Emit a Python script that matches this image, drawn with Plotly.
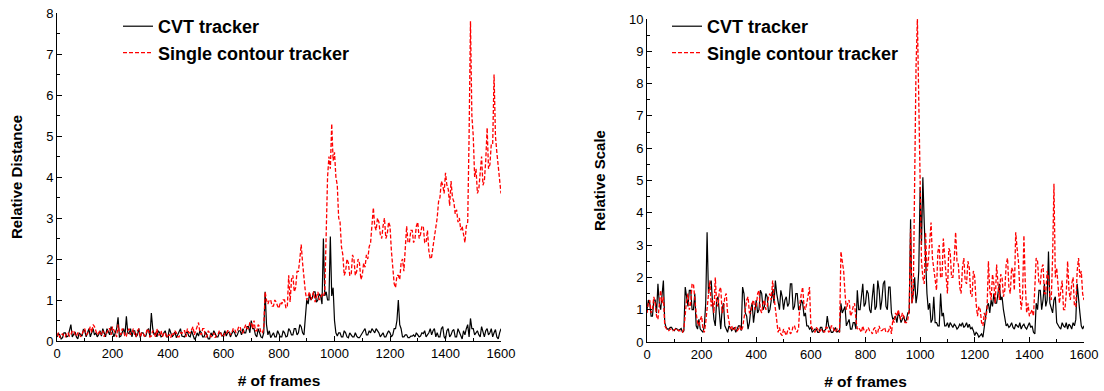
import plotly.graph_objects as go

frames = list(range(0, 1601, 5))

dist_cvt = [
    0.1, 0.18, 0.15, 0.05, 0.08, 0.2, 0.2, 0.1, 0.12, 0.25, 0.4, 0.1, 0.15, 0.22, 0.1, 0.05, 0.2, 0.15, 0.12, 0.28, 0.25, 0.1, 0.18, 0.3, 0.1, 0.2, 0.3, 0.15, 0.2, 0.1, 0.15, 0.25,
    0.12, 0.3, 0.22, 0.1, 0.3, 0.2, 0.15, 0.35, 0.25, 0.1, 0.2, 0.3, 0.58, 0.1, 0.12, 0.2, 0.3, 0.15, 0.6, 0.2, 0.18, 0.3, 0.1, 0.25, 0.25, 0.1, 0.15, 0.3, 0.08, 0.2, 0.2, 0.12,
    0.12, 0.25, 0.3, 0.1, 0.68, 0.3, 0.15, 0.2, 0.1, 0.25, 0.2, 0.1, 0.12, 0.2, 0.25, 0.1, 0.1, 0.3, 0.18, 0.1, 0.15, 0.22, 0.08, 0.15, 0.2, 0.3, 0.12, 0.1, 0.1, 0.2, 0.22, 0.12,
    0.1, 0.25, 0.15, 0.05, 0.08, 0.2, 0.12, 0.25, 0.2, 0.1, 0.1, 0.22, 0.15, 0.05, 0.05, 0.2, 0.12, 0.25, 0.18, 0.1, 0.1, 0.2, 0.2, 0.12, 0.15, 0.25, 0.12, 0.2, 0.22, 0.1, 0.18, 0.25,
    0.2, 0.1, 0.15, 0.25, 0.25, 0.15, 0.3, 0.2, 0.2, 0.35, 0.35, 0.2, 0.5, 0.3, 0.3, 0.15, 0.1, 0.3, 0.2, 0.1, 0.08, 0.2, 1.2, 0.4, 0.15, 0.25, 0.08, 0.15, 0.2, 0.1, 0.1, 0.25,
    0.15, 0.1, 0.1, 0.25, 0.2, 0.1, 0.12, 0.3, 0.25, 0.15, 0.15, 0.3, 0.3, 0.15, 0.2, 0.4, 0.35, 0.2, 0.15, 0.5, 1.0, 0.9, 1.15, 1.0, 1.05, 1.2, 1.2, 0.95, 1.0, 1.15, 1.1, 0.9,
    2.5, 1.1, 1.2, 1.0, 1.0, 2.55, 1.1, 1.3, 0.5, 0.2, 0.12, 0.2, 0.2, 0.1, 0.1, 0.25, 0.2, 0.1, 0.08, 0.2, 0.15, 0.1, 0.1, 0.2, 0.12, 0.08, 0.08, 0.15, 0.2, 0.25, 0.3, 0.15,
    0.15, 0.25, 0.2, 0.3, 0.25, 0.2, 0.3, 0.25, 0.2, 0.1, 0.15, 0.2, 0.1, 0.1, 0.18, 0.25, 0.2, 0.1, 0.15, 0.3, 0.3, 0.5, 1.0, 0.4, 0.3, 0.1, 0.1, 0.15, 0.15, 0.08, 0.08, 0.12,
    0.12, 0.15, 0.1, 0.2, 0.15, 0.1, 0.12, 0.2, 0.18, 0.25, 0.1, 0.15, 0.2, 0.3, 0.15, 0.25, 0.3, 0.1, 0.2, 0.1, 0.1, 0.3, 0.35, 0.1, 0.05, 0.25, 0.3, 0.1, 0.15, 0.25, 0.28, 0.1,
    0.1, 0.3, 0.2, 0.1, 0.05, 0.25, 0.15, 0.3, 0.4, 0.1, 0.55, 0.3, 0.3, 0.15, 0.2, 0.25, 0.15, 0.1, 0.35, 0.2, 0.1, 0.25, 0.3, 0.15, 0.2, 0.3, 0.1, 0.2, 0.28, 0.1, 0.05, 0.2,
    0.3,
]

dist_sc = [
    0.12, 0.2, 0.08, 0.15, 0.18, 0.1, 0.1, 0.2, 0.2, 0.12, 0.15, 0.25, 0.25, 0.15, 0.12, 0.2, 0.2, 0.1, 0.15, 0.25, 0.3, 0.15, 0.18, 0.25, 0.35, 0.2, 0.4, 0.35, 0.25, 0.15, 0.2, 0.25,
    0.15, 0.25, 0.1, 0.2, 0.2, 0.3, 0.3, 0.15, 0.35, 0.25, 0.2, 0.1, 0.4, 0.2, 0.15, 0.3, 0.25, 0.1, 0.12, 0.25, 0.3, 0.15, 0.2, 0.3, 0.15, 0.1, 0.25, 0.3, 0.1, 0.2, 0.2, 0.12,
    0.15, 0.3, 0.25, 0.1, 0.12, 0.25, 0.2, 0.1, 0.3, 0.15, 0.15, 0.25, 0.1, 0.2, 0.2, 0.08, 0.12, 0.15, 0.08, 0.2, 0.15, 0.25, 0.2, 0.1, 0.1, 0.2, 0.18, 0.25, 0.25, 0.1, 0.3, 0.2,
    0.2, 0.3, 0.35, 0.15, 0.25, 0.3, 0.45, 0.2, 0.15, 0.3, 0.3, 0.1, 0.1, 0.25, 0.2, 0.1, 0.12, 0.2, 0.08, 0.15, 0.15, 0.25, 0.2, 0.1, 0.1, 0.2, 0.18, 0.25, 0.25, 0.15, 0.2, 0.3,
    0.3, 0.2, 0.25, 0.35, 0.35, 0.2, 0.2, 0.3, 0.4, 0.3, 0.3, 0.45, 0.45, 0.3, 0.5, 0.25, 0.25, 0.4, 0.35, 0.2, 0.2, 0.3, 1.2, 1.0, 0.9, 1.0, 1.0, 0.85, 0.85, 1.0, 0.95, 0.85,
    0.8, 0.95, 0.9, 1.0, 1.0, 0.8, 0.85, 1.6, 0.95, 1.5, 1.6, 1.2, 1.3, 1.7, 1.7, 2.0, 2.35, 1.9, 1.5, 1.2, 1.0, 1.1, 1.2, 1.0, 1.1, 1.2, 0.95, 1.1, 1.2, 1.0, 1.05, 1.15,
    1.1, 1.2, 2.5, 4.0, 4.5, 4.2, 5.3, 4.4, 4.6, 4.0, 3.8, 3.0, 2.9, 2.3, 2.1, 1.6, 1.7, 2.0, 1.9, 1.6, 1.6, 2.1, 2.0, 1.6, 1.7, 2.0, 1.9, 1.5, 1.6, 1.9, 1.8, 2.1,
    2.0, 2.3, 2.4, 2.8, 3.25, 2.8, 2.7, 3.0, 2.9, 2.6, 2.5, 2.8, 3.0, 2.5, 2.6, 2.9, 2.8, 2.2, 1.8, 1.4, 1.3, 1.6, 1.6, 1.5, 1.9, 2.0, 1.7, 2.2, 2.8, 2.4, 2.4, 2.7,
    2.7, 2.4, 2.5, 2.8, 2.9, 2.5, 2.6, 2.8, 2.8, 2.4, 2.4, 2.7, 2.2, 2.0, 2.05, 2.3, 2.5, 2.8, 3.0, 3.4, 3.5, 3.9, 3.8, 3.6, 4.1, 3.8, 3.7, 3.3, 3.9, 3.5, 3.4, 3.1,
    3.2, 2.9, 3.0, 2.7, 2.8, 2.6, 2.4, 2.8, 2.9, 5.0, 7.8, 5.5, 5.0, 4.0, 4.2, 3.6, 3.7, 4.1, 4.5, 3.8, 3.9, 4.4, 5.2, 4.2, 4.3, 4.8, 4.8, 6.5, 5.0, 4.6, 4.3, 3.9,
    3.6,
]

scale_cvt = [
    1.0, 1.3, 1.2, 0.8, 0.8, 1.3, 1.3, 0.9, 1.8, 1.2, 1.0, 1.4, 1.9, 0.6, 0.45, 0.4, 0.4, 0.45, 0.45, 0.38, 0.35, 0.42, 0.4, 0.35, 0.38, 0.42, 0.3, 0.35, 1.7, 1.3, 1.1, 1.6,
    1.6, 1.0, 1.0, 1.5, 0.5, 0.4, 0.7, 0.4, 0.35, 0.3, 0.5, 1.2, 3.4, 1.5, 1.8, 1.9, 1.2, 0.7, 0.5, 1.3, 1.4, 0.8, 0.4, 1.0, 1.2, 0.5, 0.4, 0.3, 0.5, 0.45, 0.35, 0.4,
    0.45, 0.3, 0.4, 0.5, 0.5, 0.35, 1.7, 1.5, 0.9, 0.8, 0.4, 0.6, 1.0, 1.2, 0.6, 1.0, 1.3, 0.9, 1.0, 1.6, 1.5, 1.0, 1.1, 1.5, 1.4, 0.9, 1.0, 1.3, 1.6, 1.2, 1.9, 1.5,
    1.3, 1.0, 1.6, 1.4, 1.0, 1.3, 1.4, 1.1, 1.2, 1.8, 1.8, 1.0, 1.1, 1.5, 1.5, 1.0, 1.0, 1.3, 1.2, 0.8, 0.9, 0.5, 0.5, 0.4, 0.45, 0.3, 0.35, 0.4, 0.4, 0.3, 0.3, 0.45,
    0.45, 0.3, 0.35, 0.4, 0.8, 0.5, 0.4, 0.3, 0.3, 0.4, 0.45, 0.3, 0.35, 0.3, 1.2, 0.9, 1.0, 1.1, 0.5, 0.6, 0.7, 0.4, 0.4, 0.6, 0.6, 0.4, 1.6, 1.0, 1.0, 1.4, 1.8, 1.1,
    1.2, 1.6, 1.5, 1.0, 0.9, 1.4, 1.8, 1.0, 1.1, 1.9, 1.6, 1.0, 1.3, 1.8, 1.9, 1.1, 1.0, 1.7, 1.7, 0.9, 0.7, 0.75, 0.8, 0.6, 0.9, 0.8, 0.6, 0.7, 0.8, 0.6, 0.7, 0.9,
    0.9, 3.8, 1.2, 1.5, 2.0, 1.2, 1.5, 2.2, 4.8, 3.0, 5.1, 3.7, 2.5, 1.5, 1.0, 1.2, 0.6, 0.7, 1.4, 0.6, 0.6, 0.5, 0.5, 1.5, 0.8, 0.9, 0.5, 0.5, 0.6, 0.45, 0.6, 0.5,
    0.45, 0.55, 0.5, 0.4, 0.45, 0.55, 0.5, 0.6, 0.45, 0.5, 0.6, 0.45, 0.55, 0.4, 0.45, 0.35, 0.2, 0.3, 0.25, 0.15, 0.2, 0.25, 0.15, 0.5, 0.9, 1.1, 1.2, 0.9, 1.3, 1.1, 1.5, 1.2,
    1.2, 1.6, 1.8, 1.3, 1.4, 1.0, 0.8, 0.5, 0.55, 0.45, 0.5, 0.6, 0.45, 0.4, 0.55, 0.5, 0.45, 0.6, 0.4, 0.5, 0.55, 0.45, 0.4, 0.5, 0.6, 0.45, 0.5, 0.3, 0.25, 1.2, 1.0, 1.6,
    1.6, 1.0, 1.3, 1.8, 1.1, 1.3, 2.8, 1.2, 1.0, 0.9, 1.3, 1.4, 0.6, 0.5, 0.45, 0.4, 0.6, 0.5, 0.45, 0.6, 0.4, 0.55, 0.5, 0.4, 0.6, 0.5, 0.7, 1.8, 1.2, 0.9, 0.5, 0.4,
    0.5,
]

scale_sc = [
    0.9, 1.2, 1.3, 0.9, 1.0, 1.4, 1.2, 0.8, 0.7, 1.2, 1.6, 1.2, 1.4, 0.5, 0.4, 0.35, 0.35, 0.4, 0.4, 0.35, 0.38, 0.4, 0.42, 0.35, 0.35, 0.3, 0.3, 0.4, 1.0, 1.3, 1.5, 1.0,
    1.2, 1.8, 1.8, 1.2, 0.9, 0.6, 0.5, 0.7, 0.8, 0.4, 0.3, 0.6, 1.0, 1.5, 1.9, 1.1, 1.3, 0.9, 2.0, 1.2, 1.1, 1.6, 1.7, 0.9, 1.0, 1.4, 1.5, 0.9, 0.6, 0.4, 0.5, 0.35,
    0.4, 0.45, 0.35, 0.4, 0.5, 0.35, 0.45, 0.8, 1.0, 1.3, 1.4, 0.9, 0.9, 1.2, 1.3, 1.0, 1.1, 1.5, 1.6, 1.0, 0.9, 1.2, 1.3, 1.0, 1.1, 1.4, 1.5, 1.3, 1.9, 1.4, 1.0, 0.6,
    0.3, 0.45, 0.25, 0.2, 0.4, 0.3, 0.2, 0.35, 0.45, 0.25, 0.3, 0.5, 0.5, 0.35, 0.3, 0.45, 1.2, 1.5, 1.7, 1.1, 1.0, 1.2, 1.4, 1.7, 0.5, 0.4, 0.35, 0.3, 0.45, 0.4, 0.3, 0.35,
    0.4, 0.35, 0.3, 0.45, 0.45, 0.3, 0.35, 0.5, 0.5, 0.35, 0.3, 0.4, 0.4, 0.3, 2.8, 2.5, 2.2, 1.5, 1.0, 1.2, 1.3, 0.8, 0.9, 1.1, 1.2, 0.7, 0.4, 0.45, 0.35, 0.3, 0.5, 0.35,
    0.3, 0.4, 0.45, 0.35, 0.35, 0.25, 0.4, 0.45, 0.25, 0.3, 0.5, 0.35, 0.35, 0.4, 0.45, 0.3, 0.3, 0.35, 0.5, 0.25, 0.7, 0.6, 0.9, 0.8, 1.0, 0.8, 0.7, 0.9, 0.8, 0.6, 0.6, 0.7,
    1.0, 3.5, 1.2, 1.5, 6.0, 8.5, 10.0, 7.0, 4.0, 2.5, 2.0, 1.8, 3.4, 2.2, 2.5, 3.0, 3.7, 2.6, 2.2, 2.0, 1.6, 2.8, 3.0, 2.0, 2.0, 3.2, 2.6, 1.8, 1.5, 2.9, 2.8, 2.0,
    2.0, 2.6, 3.4, 2.5, 2.4, 1.7, 1.5, 2.3, 2.6, 1.9, 1.8, 2.5, 2.3, 1.5, 1.4, 2.2, 2.0, 1.2, 0.8, 1.1, 1.0, 0.6, 0.5, 0.9, 0.7, 1.0, 2.5, 1.6, 1.3, 2.1, 1.8, 1.2,
    2.4, 1.8, 1.3, 2.1, 2.0, 1.4, 1.6, 2.4, 2.6, 1.7, 1.5, 2.3, 2.2, 1.6, 3.4, 2.9, 2.5, 1.6, 1.0, 1.4, 3.3, 1.8, 0.9, 1.2, 0.8, 0.9, 1.0, 0.8, 1.6, 2.6, 2.5, 1.8,
    1.8, 2.3, 2.4, 1.5, 1.5, 2.2, 2.0, 1.4, 1.3, 2.6, 4.9, 2.0, 2.3, 1.8, 1.2, 1.6, 1.9, 1.0, 1.0, 1.5, 2.5, 1.6, 1.3, 1.8, 2.0, 1.1, 1.1, 2.2, 2.6, 2.0, 2.2, 1.5,
    1.3,
]

names = ["<b>CVT tracker</b>", "<b>Single contour tracker</b>"]

FONT = "Liberation Sans, Arial, sans-serif"
W, H = 1104, 391

fig = go.Figure()
fig.add_trace(go.Scatter(x=frames[:len(dist_cvt)], y=dist_cvt, name=names[0], mode="lines",
                         line=dict(color="black", width=1.2), xaxis="x", yaxis="y", legend="legend"))
fig.add_trace(go.Scatter(x=frames[:len(dist_sc)], y=dist_sc, name=names[1], mode="lines",
                         line=dict(color="red", width=1.3, dash="4px,2px"), xaxis="x", yaxis="y", legend="legend"))
fig.add_trace(go.Scatter(x=frames[:len(scale_cvt)], y=scale_cvt, name=names[0], mode="lines",
                         line=dict(color="black", width=1.2), xaxis="x2", yaxis="y2", legend="legend2"))
fig.add_trace(go.Scatter(x=frames[:len(scale_sc)], y=scale_sc, name=names[1], mode="lines",
                         line=dict(color="red", width=1.3, dash="4px,2px"), xaxis="x2", yaxis="y2", legend="legend2"))

common_axis = dict(showline=True, linecolor="black", linewidth=1, ticks="inside", ticklen=5,
                   tickcolor="black", showgrid=False, zeroline=False, automargin=False,
                   tickfont=dict(family=FONT, size=13, color="black"),
                   minor=dict(ticks="inside", ticklen=3, tickcolor="black", showgrid=False))

xtitle = dict(text="<b># of frames</b>", font=dict(size=15.5, family=FONT), standoff=15)

fig.update_layout(
    width=W, height=H, margin=dict(l=0, r=0, t=0, b=0, autoexpand=False),
    paper_bgcolor="white", plot_bgcolor="white",
    font=dict(family=FONT, color="black"),
    xaxis=dict(domain=[57 / W, 501 / W], range=[0, 1600], dtick=200, anchor="y",
               minor_dtick=100, title=xtitle, **common_axis),
    yaxis=dict(domain=[(H - 341) / H, (H - 13) / H], range=[0, 8], dtick=1, anchor="x",
               minor_dtick=0.5,
               title=dict(text="<b>Relative Distance</b>", font=dict(size=15, family=FONT), standoff=19),
               **common_axis),
    xaxis2=dict(domain=[647 / W, 1084 / W], range=[0, 1600], dtick=200, anchor="y2",
                minor_dtick=100, title=xtitle, **common_axis),
    yaxis2=dict(domain=[(H - 342) / H, (H - 19) / H], range=[0, 10], dtick=1, anchor="x2",
                minor_dtick=0.5,
                title=dict(text="<b>Relative Scale</b>", font=dict(size=15, family=FONT), standoff=19),
                **common_axis),
    legend=dict(x=118 / W, y=1 - 8 / H, xanchor="left", yanchor="top", bgcolor="rgba(0,0,0,0)",
                font=dict(family=FONT, size=18, color="black"), tracegroupgap=0),
    legend2=dict(x=667 / W, y=1 - 8 / H, xanchor="left", yanchor="top", bgcolor="rgba(0,0,0,0)",
                 font=dict(family=FONT, size=18, color="black"), tracegroupgap=0),
    showlegend=True,
)

fig.write_html("out.html")
